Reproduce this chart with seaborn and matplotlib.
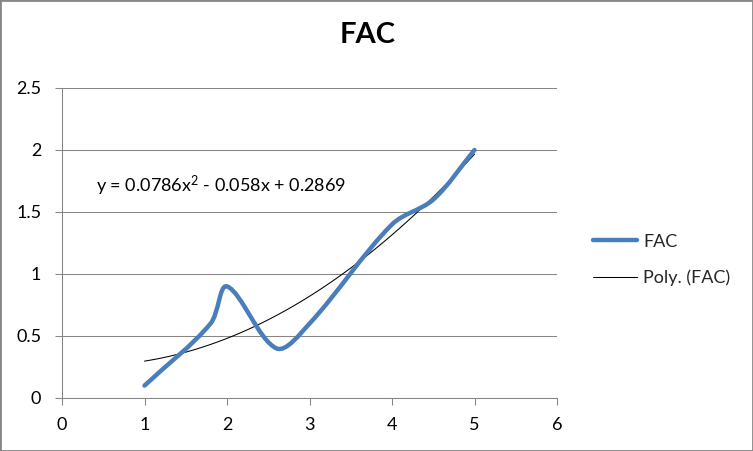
import numpy as np
import pandas as pd
import matplotlib
matplotlib.use("Agg")
import matplotlib.pyplot as plt
import seaborn as sns
from matplotlib.path import Path
from matplotlib.patches import PathPatch, Rectangle
from matplotlib.lines import Line2D

# values
x_vals = [1, 1.8, 2, 2.6, 3, 4, 4.5, 5]
fac_vals = [0.1, 0.6, 0.9, 0.4, 0.6, 1.4, 1.6, 2.0]
series_name = "FAC"
trend_name = "Poly. (FAC)"
equation = "y = 0.0786x$^{2}$ - 0.058x + 0.2869"
x_ticks = [0, 1, 2, 3, 4, 5, 6]
y_ticks = [0, 0.5, 1, 1.5, 2, 2.5]
y_tick_labels = ["0", "0.5", "1", "1.5", "2", "2.5"]

BLUE = "#4A7EBB"
GREY = "#868686"
FONT = ["Lato", "DejaVu Sans"]
FS = 13


def smooth_path(ax, xs, ys):
    # Excel-style smoothed line: cubic bezier through every point,
    # control points built in screen space so the aspect is respected
    pts = ax.transData.transform(np.column_stack([xs, ys]))
    n = len(pts)
    seg = [np.hypot(*(pts[i + 1] - pts[i])) for i in range(n - 1)]
    verts = [pts[0]]
    codes = [Path.MOVETO]
    for i in range(n - 1):
        p0 = pts[i - 1] if i > 0 else pts[i]
        p1, p2 = pts[i], pts[i + 1]
        p3 = pts[i + 2] if i + 2 < n else pts[i + 1]
        l_prev = seg[i - 1] if i > 0 else 0.0
        l_next = seg[i + 1] if i + 2 < n else 0.0
        c1 = p1 + (p2 - p0) / 3.0 * seg[i] / (l_prev + seg[i])
        c2 = p2 - (p3 - p1) / 3.0 * seg[i] / (seg[i] + l_next)
        verts += [c1, c2, p2]
        codes += [Path.CURVE4] * 3
    verts = ax.transData.inverted().transform(np.array(verts))
    return Path(verts, codes)


def main():
    sns.set_theme(style="white")
    plt.rcParams["font.family"] = FONT
    plt.rcParams["mathtext.fontset"] = "custom"
    plt.rcParams["mathtext.rm"] = "Lato"
    plt.rcParams["mathtext.default"] = "regular"

    df = pd.DataFrame({"x": x_vals, "FAC": fac_vals})

    fig = plt.figure(figsize=(7.53, 4.51), dpi=100)
    ax = fig.add_axes([62 / 753, 1 - 398 / 451, 495 / 753, 310 / 451])
    ax.set_xlim(0, 6)
    ax.set_ylim(0, 2.5)

    # polynomial trendline (order 2)
    sns.regplot(data=df, x="x", y="FAC", order=2, ci=None, scatter=False,
                line_kws={"color": "black", "lw": 0.75, "zorder": 2}, ax=ax)

    patch = PathPatch(smooth_path(ax, x_vals, fac_vals), facecolor="none",
                      edgecolor=BLUE, lw=3.2, capstyle="round",
                      joinstyle="round", zorder=3)
    ax.add_patch(patch)

    ax.set_xticks(x_ticks)
    ax.set_yticks(y_ticks)
    ax.set_xticklabels([str(t) for t in x_ticks])
    ax.set_yticklabels(y_tick_labels)
    ax.set_xlabel("")
    ax.set_ylabel("")
    ax.yaxis.grid(True, color=GREY, lw=0.75)
    ax.xaxis.grid(False)
    for side in ["top", "right"]:
        ax.spines[side].set_visible(False)
    for side in ["left", "bottom"]:
        ax.spines[side].set_color(GREY)
        ax.spines[side].set_linewidth(0.75)
    ax.tick_params(axis="both", which="major", direction="out", length=5,
                   width=0.75, color=GREY, labelsize=FS, labelcolor="black")
    ax.tick_params(axis="y", pad=10, left=True)
    ax.tick_params(axis="x", pad=9, bottom=True)

    fig.text(96 / 753, 1 - 186 / 451, equation, ha="left", va="center",
             fontsize=FS, color="black")

    fig.text(368 / 753, 1 - 35 / 451, "FAC", ha="center", va="center",
             fontsize=21, fontweight="bold", color="black")

    handles = [Line2D([], [], color=BLUE, lw=3.2),
               Line2D([], [], color="black", lw=0.75)]
    fig.legend(handles, [series_name, trend_name], loc="center left",
               bbox_to_anchor=(593 / 753, 1 - 260 / 451), frameon=False,
               fontsize=FS, handlelength=2.42, handletextpad=0.35,
               labelspacing=1.1, borderpad=0, borderaxespad=0)

    fig.add_artist(Rectangle((0, 0), 1, 1, transform=fig.transFigure,
                             fill=False, edgecolor=GREY, lw=2))

    fig.savefig("out.png", dpi=100)
    plt.close(fig)


if __name__ == "__main__":
    main()
